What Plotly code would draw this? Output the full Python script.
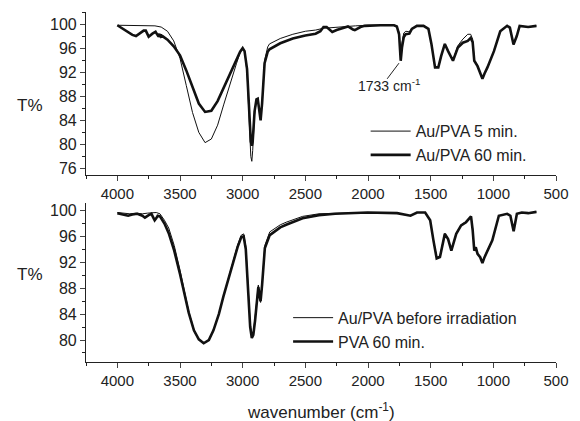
import plotly.graph_objects as go

# ---------------- data ----------------
# Top panel: Au/PVA 5 min (thin)
wn_top_5 = [4000,3900,3800,3700,3650,3600,3550,3500,3450,3400,3350,3300,3250,3200,3150,3100,3050,3020,3000,2985,2965,2950,2935,2927,2920,2905,2890,2880,2868,2857,2845,2825,2800,2786,2700,2600,2500,2418,2355,2300,2200,2100,2000,1900,1800,1770,1752,1739,1729,1715,1698,1670,1650,1610,1557,1518,1494,1465,1439,1416,1387,1361,1322,1283,1243,1204,1181,1165,1152,1126,1105,1087,1070,1047,995,945,890,868,839,813,790,722,656]
t_top_5 = [99.8,99.8,99.8,99.7,99.5,98.8,97.2,94.3,89.8,85.3,82.0,80.3,80.9,83.2,86.7,90.2,93.4,95.3,96.0,95.6,92.0,85.0,78.0,77.2,79.0,85.0,87.3,87.6,86.0,84.2,87.0,94.0,96.2,96.7,97.6,98.3,98.8,99.0,99.3,99.4,99.6,99.7,99.8,99.8,99.8,99.6,98.6,94.2,96.8,98.5,98.8,98.7,99.3,99.7,99.7,99.2,96.7,92.8,92.8,94.7,96.7,95.5,94.0,96.4,97.5,98.3,98.3,97.5,94.0,93.0,92.0,90.9,91.8,92.8,95.5,98.8,99.7,99.4,96.6,98.0,99.7,99.5,99.7]

# Top panel: Au/PVA 60 min (thick)
wn_top_60 = [4000,3960,3920,3880,3851,3820,3790,3773,3750,3720,3695,3680,3671,3665,3660,3655,3650,3640,3600,3550,3500,3450,3400,3350,3300,3250,3200,3150,3100,3050,3020,3000,2985,2965,2950,2935,2927,2920,2905,2890,2880,2868,2857,2845,2825,2800,2786,2700,2600,2500,2418,2380,2355,2330,2300,2285,2250,2200,2160,2120,2105,2060,2027,1900,1792,1770,1752,1739,1729,1715,1700,1670,1650,1610,1557,1518,1494,1465,1439,1416,1387,1361,1322,1283,1243,1204,1181,1165,1152,1126,1105,1087,1070,1047,995,945,890,868,839,813,790,722,656]
t_top_60 = [99.8,99.3,98.8,98.2,98.0,98.4,98.9,98.9,97.9,98.4,98.7,98.2,97.9,98.4,97.8,98.3,97.9,98.0,97.4,96.3,94.8,92.3,89.5,86.8,85.4,85.6,87.2,89.5,92.0,94.3,95.4,96.0,95.5,92.5,86.5,80.5,79.8,80.5,85.5,87.5,87.6,86.0,84.0,86.8,93.5,95.4,95.8,96.8,97.6,98.1,98.4,98.8,99.5,99.5,99.0,98.7,99.0,99.4,99.6,99.1,99.0,99.5,99.7,99.8,99.8,99.6,98.3,93.9,96.1,97.8,98.3,98.4,99.2,99.7,99.7,99.2,96.7,92.8,92.8,94.7,96.7,95.5,93.9,96.1,96.9,97.2,97.7,97.0,93.9,93.0,92.0,90.9,91.8,92.8,95.5,98.8,99.7,99.4,96.6,98.0,99.7,99.5,99.7]

# Bottom panel: Au/PVA before irradiation (thin)
wn_bot_0 = [4000,3950,3900,3850,3800,3760,3720,3690,3660,3624,3590,3546,3500,3467,3430,3389,3350,3311,3270,3233,3190,3154,3110,3076,3040,3011,2992,2975,2955,2940,2927,2915,2901,2885,2875,2865,2857,2845,2823,2784,2700,2653,2522,2392,2262,2003,1870,1768,1661,1609,1544,1504,1478,1452,1426,1387,1361,1335,1296,1257,1218,1178,1165,1152,1140,1126,1105,1087,1070,1047,1008,956,890,864,838,812,773,722,656]
t_bot_0 = [99.7,99.6,99.5,99.6,99.5,99.6,99.6,99.7,99.5,98.5,97.3,94.6,90.8,87.6,84.4,81.6,80.1,79.5,80.0,81.5,84.0,86.7,89.9,92.5,94.7,96.2,96.4,94.5,87.5,82.5,80.8,81.2,83.5,87.5,88.5,86.5,85.8,88.5,94.6,96.7,97.8,98.2,99.1,99.5,99.6,99.7,99.6,99.6,99.2,99.7,99.7,98.5,95.5,92.8,93.0,96.5,95.7,93.9,96.5,97.8,98.3,99.1,97.2,93.9,94.4,93.4,92.9,92.0,92.9,93.9,95.5,99.2,99.5,99.2,96.9,99.5,99.7,99.6,99.8]

# Bottom panel: PVA 60 min (thick)
wn_bot_60 = [4000,3950,3914,3880,3840,3800,3780,3750,3728,3710,3702,3690,3678,3660,3624,3590,3546,3500,3467,3430,3389,3350,3311,3270,3233,3190,3154,3110,3076,3040,3011,2992,2975,2955,2940,2927,2915,2901,2885,2875,2865,2857,2845,2823,2784,2700,2653,2522,2392,2262,2003,1870,1768,1661,1609,1544,1504,1478,1452,1426,1387,1361,1335,1296,1257,1218,1178,1165,1152,1140,1126,1105,1087,1070,1047,1008,956,890,864,838,812,773,722,656]
t_bot_60 = [99.6,99.3,99.2,99.4,99.5,99.2,98.9,99.3,99.5,98.8,98.5,98.8,99.2,99.1,98.0,96.5,93.8,90.2,87.2,84.2,81.5,80.1,79.5,80.0,81.5,84.0,86.7,89.8,92.3,94.4,95.9,96.0,94.0,87.0,82.0,80.3,80.8,83.0,87.0,88.2,86.8,86.0,88.5,94.2,96.2,97.4,97.8,98.8,99.3,99.5,99.7,99.6,99.6,99.2,99.7,99.7,98.5,95.4,92.6,92.8,96.4,95.6,93.8,96.4,97.7,98.2,99.1,97.0,93.8,94.3,93.3,92.8,91.9,92.8,93.8,95.4,99.2,99.5,99.2,96.8,99.5,99.7,99.6,99.8]

x_ticks = [4000, 3500, 3000, 2500, 2000, 1500, 1000, 500]
y_ticks_top = [76, 80, 84, 88, 92, 96, 100]
y_ticks_bot = [80, 84, 88, 92, 96, 100]

# ---------------- figure ----------------
FONT = "Arial, Liberation Sans, sans-serif"
fig = go.Figure()

fig.add_trace(go.Scatter(x=wn_top_5, y=t_top_5, mode="lines", name="Au/PVA 5 min.",
                         line=dict(color="#111", width=1), xaxis="x", yaxis="y", legend="legend"))
fig.add_trace(go.Scatter(x=wn_top_60, y=t_top_60, mode="lines", name="Au/PVA 60 min.",
                         line=dict(color="#111", width=2.6), xaxis="x", yaxis="y", legend="legend"))
fig.add_trace(go.Scatter(x=wn_bot_0, y=t_bot_0, mode="lines", name="Au/PVA before irradiation",
                         line=dict(color="#111", width=1), xaxis="x2", yaxis="y2", legend="legend2"))
fig.add_trace(go.Scatter(x=wn_bot_60, y=t_bot_60, mode="lines", name="PVA 60 min.",
                         line=dict(color="#111", width=2.6), xaxis="x2", yaxis="y2", legend="legend2"))

xax = dict(range=[4250, 500], tickvals=x_ticks, ticks="outside", ticklen=5, tickwidth=1,
           showline=True, linecolor="#222", linewidth=1.2, showgrid=False, zeroline=False,
           tickfont=dict(family=FONT, size=15, color="#222"),
           minor=dict(dtick=250, tick0=500, ticks="outside", ticklen=3, tickcolor="#222"))

def yax(rng, vals, dom, anchor):
    return dict(range=rng, tickvals=vals, ticks="outside", ticklen=5, tickwidth=1,
                showline=True, linecolor="#222", linewidth=1.2, showgrid=False, zeroline=False,
                tickfont=dict(family=FONT, size=16, color="#222"), domain=dom, anchor=anchor,
                minor=dict(dtick=2, tick0=76, ticks="outside", ticklen=3, tickcolor="#222"))

fig.update_layout(
    width=580, height=421,
    margin=dict(l=86, r=15, t=11, b=59),
    paper_bgcolor="white", plot_bgcolor="white",
    font=dict(family=FONT, color="#222"),
    xaxis=dict(xax, anchor="y"),
    xaxis2=dict(xax, anchor="y2"),
    yaxis=yax([75, 102], y_ticks_top, [0.5356, 1.0], "x"),
    yaxis2=yax([76.6, 101.1], y_ticks_bot, [0.0, 0.453], "x2"),
    legend=dict(x=0.595, y=0.708, xanchor="left", yanchor="top", bgcolor="rgba(0,0,0,0)",
                font=dict(family=FONT, size=16, color="#222"), itemwidth=40, tracegroupgap=0),
    legend2=dict(x=0.43, y=0.175, xanchor="left", yanchor="top", bgcolor="rgba(0,0,0,0)",
                 font=dict(family=FONT, size=16, color="#222"), itemwidth=40, tracegroupgap=0),
    showlegend=True,
)

fig.add_annotation(text="T%", xref="paper", yref="paper", x=-0.119, y=0.732, showarrow=False,
                   font=dict(family=FONT, size=17, color="#222"), xanchor="center", yanchor="middle")
fig.add_annotation(text="T%", xref="paper", yref="paper", x=-0.119, y=0.251, showarrow=False,
                   font=dict(family=FONT, size=17, color="#222"), xanchor="center", yanchor="middle")
fig.add_annotation(text="wavenumber (cm<sup>-1</sup>)", xref="paper", yref="paper", x=0.499, y=-0.14,
                   showarrow=False, font=dict(family=FONT, size=17, color="#222"),
                   xanchor="center", yanchor="middle")
fig.add_annotation(text="1733 cm<sup>-1</sup>", xref="x", yref="y", x=1835, y=89.8, showarrow=False,
                   font=dict(family=FONT, size=14, color="#222"), xanchor="center", yanchor="middle")
fig.add_shape(type="line", xref="x", yref="y", x0=1847, y0=90.9, x1=1753, y1=93.5,
              line=dict(color="#222", width=1))

fig.write_html("out.html", config={"displayModeBar": False},
               post_script="document.body.style.margin='0';")
